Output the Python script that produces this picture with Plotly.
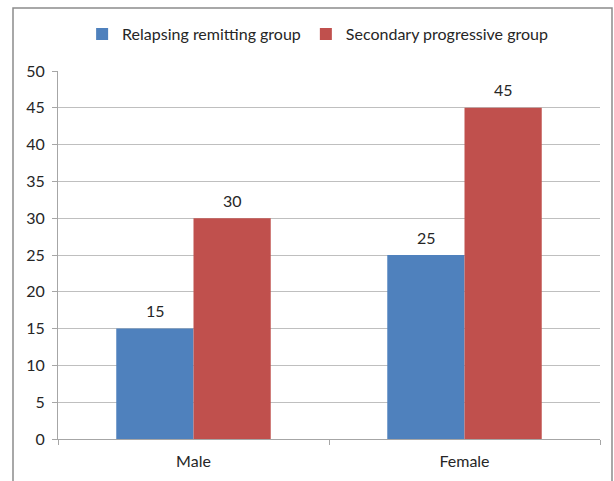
import plotly.graph_objects as go

categories = ["Male", "Female"]
relapsing_remitting = [15, 25]
secondary_progressive = [30, 45]
y_ticks = [0, 5, 10, 15, 20, 25, 30, 35, 40, 45, 50]

FONT = "Lato"
TXT = "#262626"
SIZE = 16
HALF_BAR_PX = 38.5  # half of one bar's width, used to centre value labels

fig = go.Figure()
fig.add_trace(go.Bar(
    x=categories, y=relapsing_remitting, name="Relapsing remitting group",
    marker=dict(color="#4f81bd", line=dict(width=0)),
))
fig.add_trace(go.Bar(
    x=categories, y=secondary_progressive, name="Secondary progressive group",
    marker=dict(color="#c0504d", line=dict(width=0)),
))

# value labels above each bar
annotations = []
for series, shift in ((relapsing_remitting, -HALF_BAR_PX), (secondary_progressive, HALF_BAR_PX)):
    for cat, val in zip(categories, series):
        annotations.append(dict(
            x=cat, y=val, xref="x", yref="y", text=str(val), showarrow=False,
            xshift=shift, yshift=18, font=dict(family=FONT, size=SIZE, color=TXT),
        ))

fig.update_layout(
    width=614, height=481,
    margin=dict(l=58, r=14, t=71, b=42, autoexpand=False),
    paper_bgcolor="white", plot_bgcolor="white",
    barmode="group", bargap=0.43, bargroupgap=0,
    font=dict(family=FONT, size=SIZE, color=TXT),
    showlegend=True,
    legend=dict(
        orientation="h", x=0.479, xanchor="center", y=1.1, yanchor="middle",
        font=dict(family=FONT, size=SIZE, color=TXT),
        bgcolor="rgba(0,0,0,0)", itemwidth=30, tracegroupgap=0,
    ),
    annotations=annotations,
    xaxis=dict(
        showline=True, linecolor="#a6a6a6", linewidth=1,
        ticks="outside", ticklen=5, tickcolor="#a6a6a6",
        tickson="boundaries", showgrid=False, ticklabelstandoff=8,
        tickfont=dict(family=FONT, size=SIZE, color=TXT),
    ),
    yaxis=dict(
        range=[0, 50], tickvals=y_ticks,
        showline=True, linecolor="#a6a6a6", linewidth=1,
        ticks="outside", ticklen=5, tickcolor="#a6a6a6",
        showgrid=True, gridcolor="#bfbfbf", gridwidth=1,
        zeroline=False, ticklabelstandoff=4,
        tickfont=dict(family=FONT, size=SIZE, color=TXT),
    ),
    shapes=[dict(
        type="rect", xref="paper", yref="paper",
        x0=-45 / 542, x1=1 + 12 / 542, y0=-0.2, y1=1 + 63 / 368,
        line=dict(color="#8c8c8c", width=1.5), fillcolor="rgba(0,0,0,0)",
        layer="below",
    )],
)

fig.write_html("out.html")
